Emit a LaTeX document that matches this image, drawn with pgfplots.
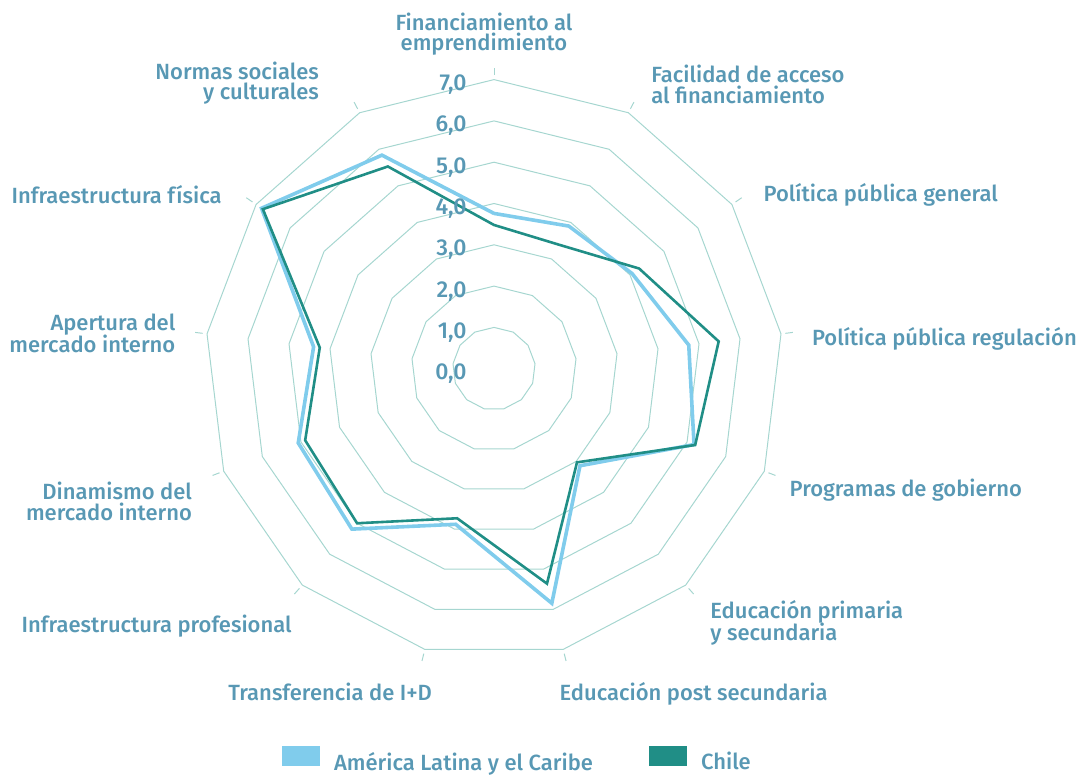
\documentclass[border=0pt]{standalone}
\usepackage{fontspec}
\setmainfont{Fira Sans}[UprightFont=* Medium]
\newfontfamily\numfont{Fira Sans}
\usepackage{pgfplots}
\pgfplotsset{compat=1.18}
\usepackage{pgfplotstable}
\usetikzlibrary{calc}
\definecolor{alc}{RGB}{128,204,236}
\definecolor{chile}{RGB}{32,142,134}
\definecolor{gridc}{RGB}{166,214,208}
\definecolor{txt}{RGB}{88,152,180}

% k = axis index (clockwise from top), values 0-7
\pgfplotstableread{
k  alc   chile
0  3.76  3.48
1  3.90  3.39
2  4.06  4.27
3  4.75  5.48
4  5.18  5.21
5  3.14  3.03
6  5.85  5.36
7  3.88  3.73
8  5.19  5.00
9  5.07  4.89
10 4.40  4.25
11 6.84  6.80
12 5.84  5.53
13 3.76  3.48
}\radar

\begin{document}
\begin{tikzpicture}
\begin{axis}[
  hide axis, scale only axis,
  x=20.65pt, y=20.65pt,
  xmin=-11.9613, xmax=14.1889, ymin=-9.8620, ymax=8.9274,
  clip=false, at={(0,0)}, anchor=south west,
  data cs=polar,
  legend columns=2,
  legend style={draw=none, fill=none, at={(0.480,-0.002)}, anchor=south,
    font=\fontsize{11}{13}\selectfont, text=txt, inner sep=0pt,
    /tikz/every odd column/.append style={column sep=5pt},
    /tikz/every even column/.append style={column sep=26pt}},
  legend image code/.code={\fill[#1,draw=none] (0pt,-1.5pt) rectangle (19pt,8.5pt);},
]
\pgfplotsinvokeforeach{1,...,7}{
  \addplot[gridc, line width=0.5pt, forget plot]
    table[x expr=90-\thisrow{k}*360/13, y expr=#1]{\radar};
}
\addplot[color=alc, line width=1.8pt, line join=miter]
  table[x expr=90-\thisrow{k}*360/13, y=alc]{\radar};
\addlegendentry{América Latina y el Caribe}
\addplot[color=chile, line width=1.3pt, line join=miter]
  table[x expr=90-\thisrow{k}*360/13, y=chile]{\radar};
\addlegendentry{Chile}
\end{axis}

\begin{scope}[x=0.5pt, y=-0.5pt, shift={(0,388pt)}]
  % radial tick marks outside the outer ring
  \foreach \k in {0,...,12} {
    \draw[gridc, line width=0.5pt]
      ($(494,368.7)+({\k*360/13-90}:293.5)$) -- ($(494,368.7)+({\k*360/13-90}:301)$);
  }
  % value labels
  \foreach \v in {0,...,7} {
    \node[anchor=base east, inner sep=0pt, text=txt, font=\fontsize{11.5}{13}\selectfont]
      at (467,{379.7-41.3*\v}) {\v,0};
  }
  \tikzset{lab/.style={inner sep=0pt, text=txt, font=\fontsize{11}{13}\selectfont}}
  \node[lab, anchor=base] at (484,30.7) {Financiamiento al};
  \node[lab, anchor=base] at (484,50.5) {emprendimiento};
  \node[lab, anchor=base west] at (651,82.3) {Facilidad de acceso};
  \node[lab, anchor=base west] at (651,104) {al financiamiento};
  \node[lab, anchor=base west] at (763.3,201.7) {Política pública general};
  \node[lab, anchor=base west] at (811.7,345.7) {Política pública regulación};
  \node[lab, anchor=base west] at (789.3,496.7) {Programas de gobierno};
  \node[lab, anchor=base west] at (710,618.3) {Educación primaria};
  \node[lab, anchor=base west] at (710,640) {y secundaria};
  \node[lab, anchor=base west] at (559.3,700.7) {Educación post secundaria};
  \node[lab, anchor=base east] at (432.3,700.7) {Transferencia de I+D};
  \node[lab, anchor=base east] at (292,632.3) {Infraestructura profesional};
  \node[lab, anchor=base east] at (192.3,500) {Dinamismo del};
  \node[lab, anchor=base east] at (192.3,521) {mercado interno};
  \node[lab, anchor=base east] at (175.7,331) {Apertura del};
  \node[lab, anchor=base east] at (175.7,352.3) {mercado interno};
  \node[lab, anchor=base east] at (222,204) {Infraestructura física};
  \node[lab, anchor=base east] at (319.3,79.3) {Normas sociales};
  \node[lab, anchor=base east] at (319.3,100) {y culturales};
\end{scope}
\pgfresetboundingbox
\path (0,0) rectangle (540pt,388pt);
\end{tikzpicture}
\end{document}
